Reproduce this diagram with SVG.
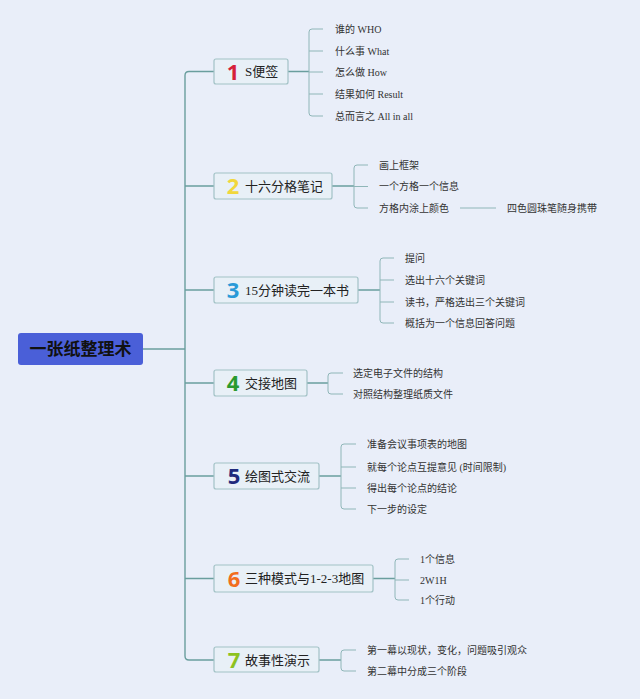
<svg xmlns="http://www.w3.org/2000/svg" width="640" height="699" viewBox="0 0 640 699">
<style>
.bg{fill:#e9eef9}
.root{fill:#4a5fd8}
.rt{font-family:"Liberation Sans","Noto Sans CJK SC",sans-serif;font-size:17px;font-weight:bold;fill:#111}
.node{fill:#e8f0f7;stroke:#a2c2c6;stroke-width:1.2}
.num{font-family:"Noto Sans","DejaVu Sans","Liberation Sans",sans-serif;font-size:22px;font-weight:bold;text-anchor:middle}
.lbl{font-family:"Liberation Serif","Noto Sans CJK SC",serif;font-size:13px;fill:#222}
.leaf{font-family:"Liberation Serif","Noto Sans CJK SC",serif;font-size:10px;fill:#333}
.main{fill:none;stroke:#6a9e9e;stroke-width:1.4}
.br{fill:none;stroke:#8fb6b8;stroke-width:1}
</style>
<rect class="bg" x="0" y="0" width="640" height="699"/>
<g id="connectors">
<path class="main" d="M143,349 H185"/>
<path class="main" d="M214,71.5 H189 Q185,71.5 185,75.5 V656 Q185,660 189,660 H214"/>
<path class="main" d="M185,186 H214 M185,290 H214 M185,383 H214 M185,476 H214 M185,578.5 H214"/>
<path class="main" d="M288,71.5 H309 M332,186 H354 M358,290 H380 M307,383 H328 M319,476 H341 M373,578.5 H395 M319,660 H341"/>
<path class="br" d="M323,29 H312 Q309,29 309,32 V113 Q309,116 312,116 H323 M309,51 H323 M309,72 H323 M309,94 H323"/>
<path class="br" d="M368,165 H357 Q354,165 354,168 V205 Q354,208 357,208 H368 M354,186.5 H368"/>
<path class="br" d="M460,208 H496"/>
<path class="br" d="M394,258 H383 Q380,258 380,261 V320 Q380,323 383,323 H394 M380,280 H394 M380,302 H394"/>
<path class="br" d="M343,373 H331 Q328,373 328,376 V391 Q328,394 331,394 H343"/>
<path class="br" d="M356,444 H344 Q341,444 341,447 V506 Q341,509 344,509 H356 M341,467 H356 M341,488 H356"/>
<path class="br" d="M409,559 H398 Q395,559 395,562 V597 Q395,600 398,600 H409 M395,580 H409"/>
<path class="br" d="M356,650 H344 Q341,650 341,653 V668 Q341,671 344,671 H356"/>
</g>
<g id="root">
<rect class="root" x="18" y="333" width="125" height="32" rx="3"/>
<text class="rt" x="80.5" y="355" text-anchor="middle">一张纸整理术</text>
</g>
<g id="n1">
<rect class="node" x="214" y="59" width="74" height="25" rx="2"/>
<text class="num" x="233" y="79.5" fill="#d61f3a">1</text>
<text class="lbl" x="245" y="76">S便签</text>
<text class="leaf" x="335" y="32.5">谁的 WHO</text>
<text class="leaf" x="335" y="54.5">什么事 What</text>
<text class="leaf" x="335" y="75.5">怎么做 How</text>
<text class="leaf" x="335" y="97.5">结果如何 Result</text>
<text class="leaf" x="335" y="119.5">总而言之 All in all</text>
</g>
<g id="n2">
<rect class="node" x="214" y="173" width="118" height="26" rx="2"/>
<text class="num" x="233" y="194" fill="#f1d73c">2</text>
<text class="lbl" x="245" y="190.5">十六分格笔记</text>
<text class="leaf" x="379" y="168.5">画上框架</text>
<text class="leaf" x="379" y="190">一个方格一个信息</text>
<text class="leaf" x="379" y="211.5">方格内涂上颜色</text>
<text class="leaf" x="507" y="211.5">四色圆珠笔随身携带</text>
</g>
<g id="n3">
<rect class="node" x="214" y="277" width="144" height="26" rx="2"/>
<text class="num" x="233" y="298" fill="#2a9ad8">3</text>
<text class="lbl" x="245" y="294.5">15分钟读完一本书</text>
<text class="leaf" x="405" y="261.5">提问</text>
<text class="leaf" x="405" y="283.5">选出十六个关键词</text>
<text class="leaf" x="405" y="305.5">读书，严格选出三个关键词</text>
<text class="leaf" x="405" y="326.5">概括为一个信息回答问题</text>
</g>
<g id="n4">
<rect class="node" x="214" y="370" width="93" height="26" rx="2"/>
<text class="num" x="233" y="391" fill="#2a9a2e">4</text>
<text class="lbl" x="245" y="387.5">交接地图</text>
<text class="leaf" x="353" y="376.5">选定电子文件的结构</text>
<text class="leaf" x="353" y="397.5">对照结构整理纸质文件</text>
</g>
<g id="n5">
<rect class="node" x="214" y="463" width="105" height="26" rx="2"/>
<text class="num" x="234" y="484" fill="#1f2a7c">5</text>
<text class="lbl" x="245" y="480.5">绘图式交流</text>
<text class="leaf" x="367" y="447.5">准备会议事项表的地图</text>
<text class="leaf" x="367" y="470.5">就每个论点互提意见 (时间限制)</text>
<text class="leaf" x="367" y="491.5">得出每个论点的结论</text>
<text class="leaf" x="367" y="512.5">下一步的设定</text>
</g>
<g id="n6">
<rect class="node" x="214" y="565" width="159" height="27" rx="2"/>
<text class="num" x="234" y="586.5" fill="#f26e1e">6</text>
<text class="lbl" x="245" y="583">三种模式与1-2-3地图</text>
<text class="leaf" x="420" y="562.5">1个信息</text>
<text class="leaf" x="420" y="583.5">2W1H</text>
<text class="leaf" x="420" y="603.5">1个行动</text>
</g>
<g id="n7">
<rect class="node" x="214" y="647" width="105" height="25" rx="2"/>
<text class="num" x="234" y="668" fill="#8dc21f">7</text>
<text class="lbl" x="245" y="664.5">故事性演示</text>
<text class="leaf" x="367" y="653.5">第一幕以现状，变化，问题吸引观众</text>
<text class="leaf" x="367" y="674.5">第二幕中分成三个阶段</text>
</g>
</svg>
